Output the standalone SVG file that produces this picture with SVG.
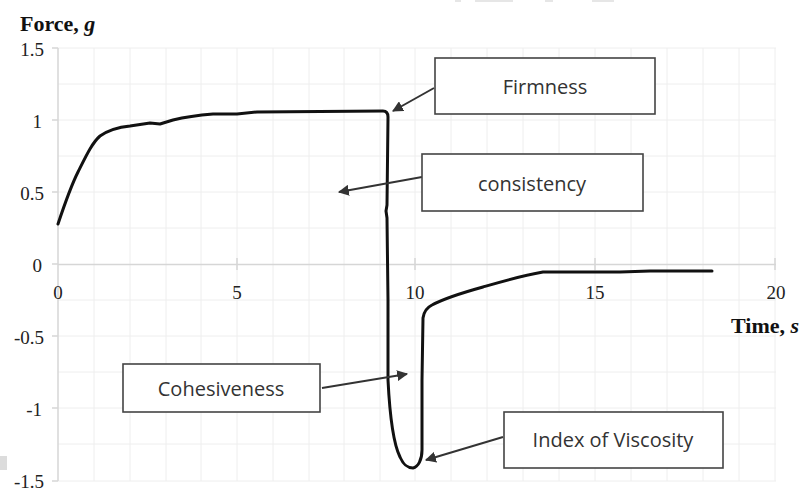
<svg xmlns="http://www.w3.org/2000/svg" width="804" height="491" viewBox="0 0 804 491">
<defs>
<style>
.grid{stroke:#eeeeee;stroke-width:1;fill:none}
.axis{stroke:#d6d6d6;stroke-width:1.5;fill:none}
.tick{font-family:"Liberation Serif",serif;font-size:19px;fill:#222}
.title{font-family:"Liberation Serif",serif;font-size:22px;font-weight:bold;fill:#111}
.box{fill:#fff;stroke:#444;stroke-width:1.6}
.lbl{font-family:"Open Sans","Liberation Sans",sans-serif;font-size:20px;fill:#333;text-anchor:middle}
.conn{stroke:#333;stroke-width:2;fill:none;marker-end:url(#ah)}
.curve{stroke:#111;stroke-width:3;fill:none;stroke-linejoin:round;stroke-linecap:round}
</style>
<marker id="ah" viewBox="0 0 10 10" refX="9" refY="5" markerWidth="5.5" markerHeight="5.5" orient="auto" markerUnits="strokeWidth">
<path d="M0,0 L10,5 L0,10 z" fill="#333"/>
</marker>
</defs>
<rect width="804" height="491" fill="#fff"/>
<g fill="#e6e6e6">
<rect x="455" y="0" width="6" height="2"/>
<rect x="475" y="0" width="38" height="2"/>
<rect x="545" y="0" width="8" height="2"/>
<rect x="592" y="0" width="22" height="2"/>
<rect x="0" y="456" width="7" height="14" fill="#dcdcdc"/>
</g>
<g id="grid" class="grid">
<path d="M94,48V481 M130,48V481 M166,48V481 M201,48V481 M237,48V481 M273,48V481 M309,48V481 M344,48V481 M380,48V481 M415,48V481 M451,48V481 M487,48V481 M523,48V481 M559,48V481 M595,48V481 M631,48V481 M667,48V481 M703,48V481 M739,48V481 M775,48V481"/>
<path d="M58,48H776 M58,84H776 M58,120H776 M58,156H776 M58,192H776 M58,228H776 M58,300H776 M58,336H776 M58,372H776 M58,408H776 M58,444H776 M58,481H776"/>
</g>
<g id="axes" class="axis">
<path d="M58,48V481"/>
<path d="M52,48H58 M52,120H58 M52,192H58 M52,264H58 M52,336H58 M52,408H58 M52,481H58"/>
<path d="M58,264.5H776"/>
<path d="M237,258V270 M415,258V270 M595,258V270 M775,258V270"/>
</g>
<g id="ylabels" class="tick" text-anchor="end">
<text x="44" y="56">1.5</text>
<text x="42" y="128">1</text>
<text x="44" y="200">0.5</text>
<text x="42" y="272">0</text>
<text x="44" y="344">-0.5</text>
<text x="42" y="416">-1</text>
<text x="44" y="488">-1.5</text>
</g>
<g id="xlabels" class="tick" text-anchor="middle">
<text x="58" y="299">0</text>
<text x="237" y="299">5</text>
<text x="415" y="299">10</text>
<text x="595" y="299">15</text>
<text x="776" y="299">20</text>
</g>
<text class="title" x="20" y="31">Force, <tspan font-style="italic">g</tspan></text>
<text class="title" x="731" y="333">Time, <tspan font-style="italic">s</tspan></text>
<g id="curve">
<path class="curve" d="M58,224 C66,200 70,188 78,172 C86,156 92,143 100,136 C110,129 120,127 130,126 L150,123 L160,124 L173,120 C185,117 200,115 213,114 L237,114 L257,112 L383,111 Q388,111 388,117 L387,205 L386,211 L387,218 L388,300 L388,380 C390,420 394,445 400,457 C404,466 408,468 413,468 C418,467 422,460 422,450 L422,380 L423,318 C424,310 428,307 432,305 C445,298 465,292 483,287 C500,282 520,276 543,272 L620,272 L650,271 L712,271"/>
</g>
<g id="connectors">
<line class="conn" x1="434" y1="88" x2="393" y2="111"/>
<line class="conn" x1="422" y1="177" x2="339" y2="192"/>
<line class="conn" x1="322" y1="388" x2="407" y2="374"/>
<line class="conn" x1="503" y1="437" x2="426" y2="460"/>
</g>
<g id="firmness">
<rect class="box" x="435" y="58" width="220" height="56"/>
<text class="lbl" x="545" y="94">Firmness</text>
</g>
<g id="consistency">
<rect class="box" x="422" y="154" width="221" height="57"/>
<text class="lbl" x="532" y="191">consistency</text>
</g>
<g id="cohesiveness">
<rect class="box" x="123" y="364" width="197" height="48"/>
<text class="lbl" x="221" y="396">Cohesiveness</text>
</g>
<g id="viscosity">
<rect class="box" x="504" y="412" width="219" height="56"/>
<text class="lbl" x="613" y="447">Index of Viscosity</text>
</g>
</svg>
